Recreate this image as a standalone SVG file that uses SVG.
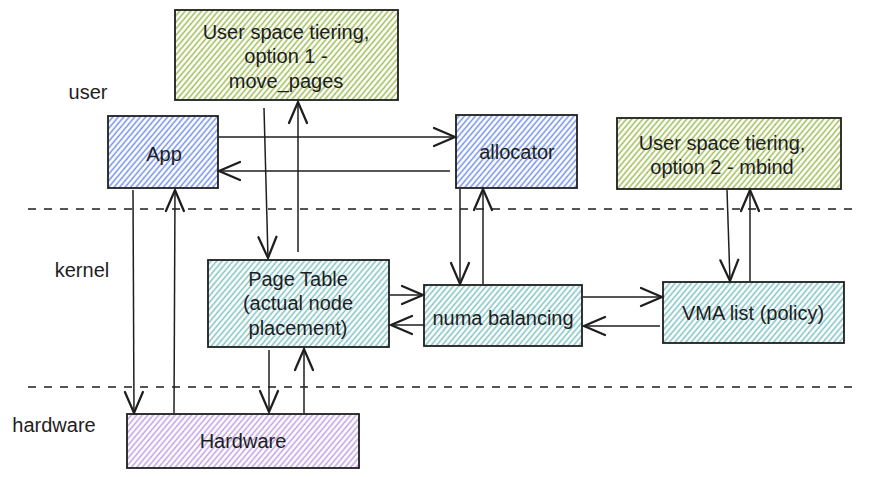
<svg xmlns="http://www.w3.org/2000/svg" width="869" height="477" viewBox="0 0 869 477">
<defs>
<pattern id="hGreen" width="4.2" height="4.2" patternUnits="userSpaceOnUse" patternTransform="rotate(40)"><line x1="2" y1="-1" x2="2" y2="6" stroke="#9fbc55" stroke-width="1.5"/></pattern>
<pattern id="hBlue" width="4.2" height="4.2" patternUnits="userSpaceOnUse" patternTransform="rotate(40)"><line x1="2" y1="-1" x2="2" y2="6" stroke="#7391ea" stroke-width="1.5"/></pattern>
<pattern id="hTeal" width="4.2" height="4.2" patternUnits="userSpaceOnUse" patternTransform="rotate(40)"><line x1="2" y1="-1" x2="2" y2="6" stroke="#80c2c6" stroke-width="1.5"/></pattern>
<pattern id="hPurple" width="4.2" height="4.2" patternUnits="userSpaceOnUse" patternTransform="rotate(40)"><line x1="2" y1="-1" x2="2" y2="6" stroke="#bea0e4" stroke-width="1.5"/></pattern>
<marker id="arr" markerWidth="30" markerHeight="30" refX="0" refY="0" viewBox="-16 -10 20 20" markerUnits="userSpaceOnUse" orient="auto" overflow="visible"><path d="M-14,-6 L0,0 L-14,6" fill="none" stroke="#1e1e1e" stroke-width="1.5" stroke-linecap="round"/></marker>
</defs>
<style>
.box{stroke:#1e1e1e;stroke-width:1.8}
.t{font-family:"Liberation Sans",Arial,sans-serif;font-size:20px;fill:#1e1e1e;text-anchor:middle;dominant-baseline:central}
.c{fill:none;stroke:#1e1e1e;stroke-width:1.5;marker-end:url(#arr)}
.d{fill:none;stroke:#1e1e1e;stroke-width:1.3;stroke-dasharray:8 8}
</style>
<rect width="869" height="477" fill="#ffffff"/>
<g id="separators">
<line class="d" x1="28" y1="209" x2="855" y2="209"/>
<line class="d" x1="28" y1="387" x2="855" y2="387"/>
<text class="t" x="88" y="92">user</text>
<text class="t" x="82" y="270">kernel</text>
<text class="t" x="54" y="425">hardware</text>
</g>
<g id="n-opt1"><rect class="box" x="175" y="10" width="223" height="90" fill="url(#hGreen)"/>
<text class="t" x="286" y="32">User space tiering,</text><text class="t" x="286" y="56">option 1 -</text><text class="t" x="286" y="81">move_pages</text></g>
<g id="n-app"><rect class="box" x="108" y="116" width="110" height="72" fill="url(#hBlue)"/><text class="t" x="164" y="154">App</text></g>
<g id="n-allocator"><rect class="box" x="456" y="115" width="121" height="73" fill="url(#hBlue)"/><text class="t" x="517" y="152">allocator</text></g>
<g id="n-opt2"><rect class="box" x="617" y="118" width="224" height="71" fill="url(#hGreen)"/>
<text class="t" x="722" y="143">User space tiering,</text><text class="t" x="722" y="167">option 2 - mbind</text></g>
<g id="n-pagetable"><rect class="box" x="208" y="260" width="181" height="87" fill="url(#hTeal)"/>
<text class="t" x="298" y="279">Page Table</text><text class="t" x="298" y="303">(actual node</text><text class="t" x="298" y="328">placement)</text></g>
<g id="n-numa"><rect class="box" x="424" y="285" width="158" height="61" fill="url(#hTeal)"/><text class="t" x="503" y="318">numa balancing</text></g>
<g id="n-vma"><rect class="box" x="663" y="282" width="181" height="61" fill="url(#hTeal)"/><text class="t" x="753" y="313">VMA list (policy)</text></g>
<g id="n-hardware"><rect class="box" x="127" y="414" width="232" height="54" fill="url(#hPurple)"/><text class="t" x="243" y="441">Hardware</text></g>
<g id="connectors">
<path class="c" d="M219,137 L455,137"/>
<path class="c" d="M450,171 L219,171"/>
<path class="c" d="M264,108 L268,258"/>
<path class="c" d="M298,252 L298,102"/>
<path class="c" d="M133,190 L134,413"/>
<path class="c" d="M174,413 L175,190"/>
<path class="c" d="M269,350 L269,412"/>
<path class="c" d="M304,413 L304,349"/>
<path class="c" d="M390,295 L423,295"/>
<path class="c" d="M424,325 L391,325"/>
<path class="c" d="M460,189 L460,284"/>
<path class="c" d="M483,284 L483,189"/>
<path class="c" d="M583,297 L662,297"/>
<path class="c" d="M660,326 L584,326"/>
<path class="c" d="M727,190 L730,281"/>
<path class="c" d="M750,281 L750,190"/>
</g>
</svg>
